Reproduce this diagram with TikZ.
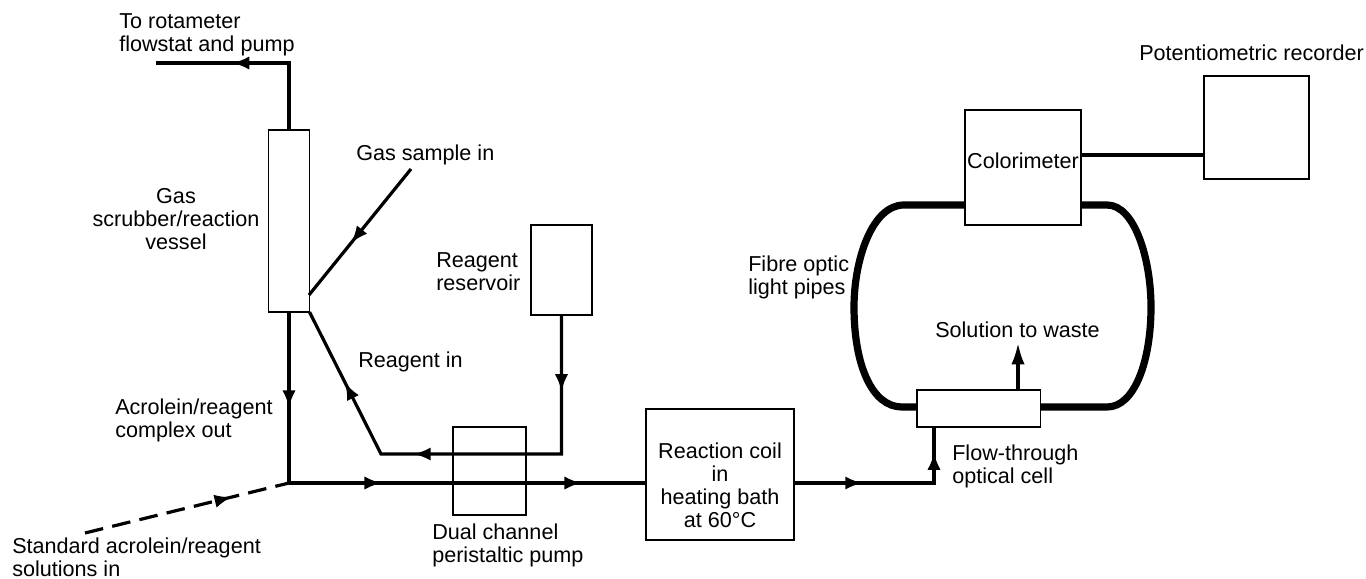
\documentclass[tikz,border=0pt]{standalone}
\usepackage{fontspec}
\setmainfont{Liberation Sans}
\usetikzlibrary{arrows.meta,decorations.markings}

\begin{document}
\begin{tikzpicture}[x=0.75pt,y=-0.75pt,
    unit/.style ={rectangle, draw, line width=1.1pt, inner sep=0pt, outer sep=0pt},
    tag/.style ={inner sep=0pt, align=left, font=\fontsize{16.2}{17.2}\selectfont},
    tube/.style ={line width=2.4pt},
    pipe/.style ={line width=5.4pt},
    flowat/.style ={postaction={decorate,decoration={markings,
        mark=at position #1 with {\arrow{Latex[length=13pt,width=10pt]}}}}}]
   \useasboundingbox (0,0) rectangle (1366,578);

   \node[unit, minimum width=30.75pt, minimum height=136.5pt] (scrubber)  at (289,221)  {};
   \node[unit, minimum width=45.75pt, minimum height=67.5pt] (reservoir)  at (561.5,270)  {};
   \node[unit, minimum width=54.75pt, minimum height=66pt] (pump)  at (489.5,471)  {};
   \node[unit, minimum width=111pt, minimum height=98.25pt] (coil)  at (720,474.5)  {};
   \node[unit, minimum width=87pt, minimum height=86.25pt] (colorimeter)  at (1023,167.5)  {};
   \node[unit, minimum width=78.75pt, minimum height=77.25pt] (recorder)  at (1256.5,127.5)  {};
   \node[unit, minimum width=92.6pt, minimum height=27.75pt] (cell)  at (978.75,408.5)  {};

   \coordinate (flowout) at (156,63);
   \coordinate (gasin) at (411,169);
   \coordinate (gasend) at (309,295);
   \coordinate (reagentbend) at (381,454);
   \coordinate (junction) at (289,483);
   \coordinate (standardin) at (85,533);
   \coordinate (cellin) at (934,427);
   \coordinate (waste) at (1018,343);
   \coordinate (signal) at (1140,155);
   \coordinate (pipetop) at (1000,205);
   \coordinate (pipebottom) at (1000,407);
   \coordinate (pipeleft) at (854,307);
   \coordinate (piperight) at (1151,307);

   \draw[tube, flowat=0.62] (scrubber.north) |- (flowout);
   \draw[tube, flowat=0.59] (gasin) -- (gasend);
   \draw[tube, flowat=0.16, flowat=0.6, flowat=0.835] (reservoir.south) |- (reagentbend) -- (scrubber.south east);
   \draw[tube, flowat=0.56] (scrubber.south) -- (junction);
   \draw[tube, dash pattern=on 14pt off 7pt, flowat=0.72] (standardin) -- (junction);
   \draw[tube, flowat=0.26, flowat=0.82] (junction) -- (coil.west |- junction);
   \draw[tube, flowat=0.35, flowat=0.87] (coil.east |- junction) -| (cellin);
   \draw[tube, -{Latex[length=16pt,width=10pt]}] (cell.north -| waste) -- (waste);
   \draw[tube] (colorimeter.east |- signal) -- (recorder.west |- signal);

   \draw[pipe] (colorimeter.west |- pipetop) -- (904,205) .. controls (872,205) and (854,260) .. (pipeleft)
      .. controls (854,365) and (872,407) .. (902,407) -- (cell.west |- pipebottom);
   \draw[pipe] (colorimeter.east |- pipetop) -- (1107,205) .. controls (1135,205) and (1151,260) .. (piperight)
      .. controls (1151,360) and (1135,407) .. (1107,407) -- (cell.east |- pipebottom);

   \node[tag, anchor=west] (rotameter) at (119,34.5) {To rotameter\\flowstat and pump};
   \node[tag, anchor=west] (gassample) at (356,155) {Gas sample in};
   \node[tag, align=center] (scrubbertext) at (176,219) {Gas\\scrubber/reaction\\vessel};
   \node[tag, anchor=west] (reservoirtext) at (436,271.5) {Reagent\\reservoir};
   \node[tag, anchor=west] (reagentin) at (358,362) {Reagent in};
   \node[tag, anchor=west] (complexout) at (115,420) {Acrolein/reagent\\complex out};
   \node[tag, anchor=west] (standardtext) at (12,557) {Standard acrolein/reagent\\solutions in};
   \node[tag, anchor=west] (pumptext) at (432,545.5) {Dual channel\\peristaltic pump};
   \node[tag, align=center] (cointext) at (720,485.5) {Reaction coil\\in\\heating bath\\at 60°C};
   \node[tag] (colorimetertext) at (1023,161) {Colorimeter};
   \node[tag, anchor=west] (recordertext) at (1139,53) {Potentiometric recorder};
   \node[tag, anchor=west] (pipestext) at (748,277) {Fibre optic\\light pipes};
   \node[tag, anchor=west] (wastetext) at (935,330) {Solution to waste};
   \node[tag, anchor=west] (celltext) at (952,466) {Flow-through\\optical cell};
\end{tikzpicture}
\end{document}
